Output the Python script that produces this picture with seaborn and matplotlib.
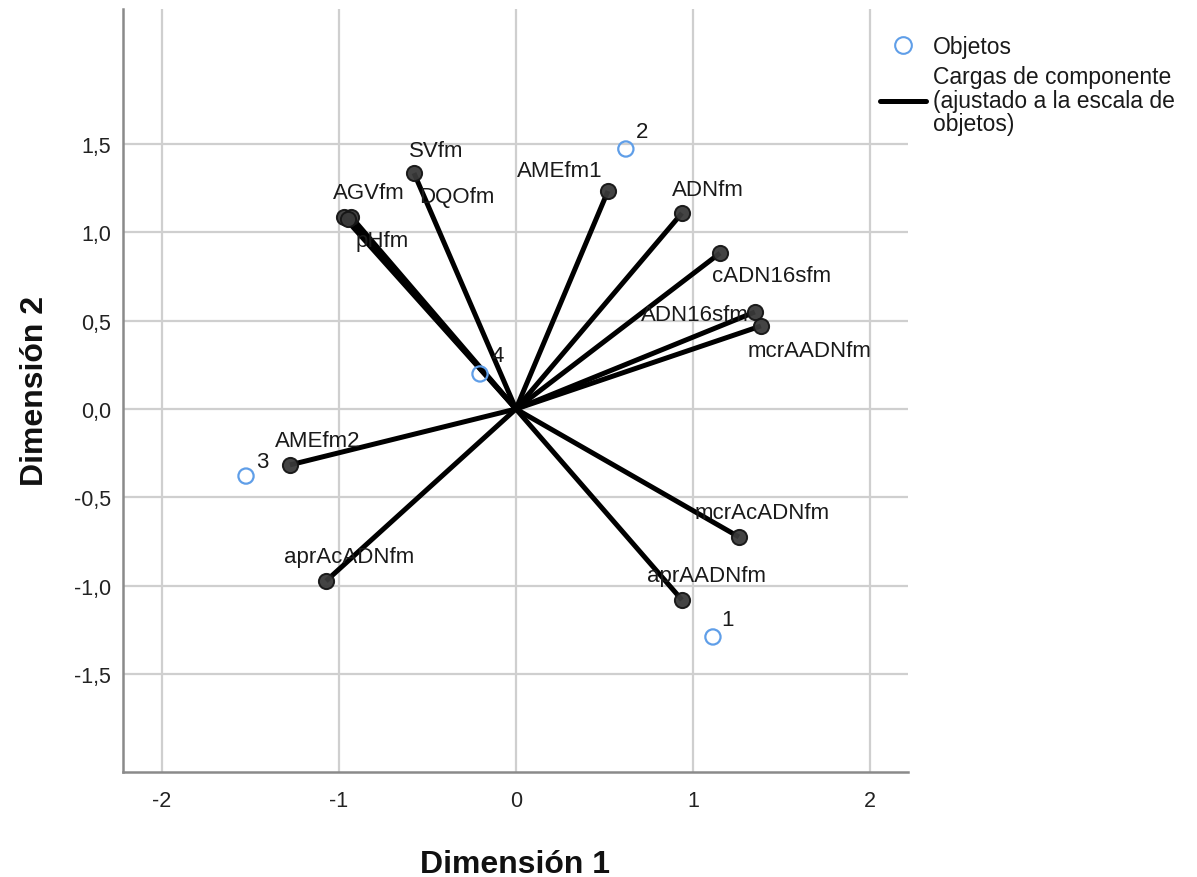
import matplotlib
matplotlib.use("Agg")
import matplotlib.pyplot as plt
from matplotlib.lines import Line2D
import seaborn as sns
import pandas as pd

# Component loadings (scaled to object space)
var_names = ["SVfm", "AGVfm", "DQOfm", "pHfm", "AMEfm1", "ADNfm", "cADN16sfm",
             "ADN16sfm", "mcrAADNfm", "mcrAcADNfm", "aprAADNfm", "aprAcADNfm", "AMEfm2"]
load_dim1 = [-0.576, -0.972, -0.930, -0.950, 0.520, 0.938, 1.153,
             1.350, 1.384, 1.260, 0.938, -1.073, -1.277]
load_dim2 = [1.333, 1.085, 1.085, 1.075, 1.232, 1.107, 0.881,
             0.548, 0.469, -0.723, -1.079, -0.972, -0.316]

# Object scores
obj_names = ["1", "2", "3", "4"]
obj_dim1 = [1.113, 0.621, -1.525, -0.203]
obj_dim2 = [-1.288, 1.469, -0.379, 0.198]

x_ticks = [-2, -1, 0, 1, 2]
y_ticks = [-1.5, -1.0, -0.5, 0.0, 0.5, 1.0, 1.5]

# label placement (pixel offsets from the point, left-aligned text)
var_label_offsets = {
    "SVfm": (-5, 23), "AGVfm": (-11, 24), "DQOfm": (68, 20), "pHfm": (8, -22),
    "AMEfm1": (-91, 20), "ADNfm": (-10, 24), "cADN16sfm": (-8, -22),
    "ADN16sfm": (-114, -2), "mcrAADNfm": (-13, -25), "mcrAcADNfm": (-44, 24),
    "aprAADNfm": (-35, 24), "aprAcADNfm": (-42, 25), "AMEfm2": (-15, 24),
}
obj_label_offsets = {"1": (8, 17), "2": (10, 17), "3": (10, 15), "4": (11, 18)}

loadings = pd.DataFrame({"name": var_names, "d1": load_dim1, "d2": load_dim2})
objects = pd.DataFrame({"name": obj_names, "d1": obj_dim1, "d2": obj_dim2})

sns.set_theme(style="whitegrid")
plt.rcParams["font.family"] = ["Liberation Sans", "DejaVu Sans"]

W, H = 1197, 878
fig = plt.figure(figsize=(W / 100, H / 100), dpi=100)
fig.patch.set_facecolor("white")
ax = fig.add_axes([123 / W, 1 - 773 / H, (908 - 123) / W, (773 - 10) / H])
ax.set_facecolor("white")

blue = "#5f9ee8"
txt = "#1a1a1a"

# loading vectors from the origin
for _, r in loadings.iterrows():
    ax.plot([0, r.d1], [0, r.d2], color="black", lw=3.6, solid_capstyle="butt", zorder=3)

sns.scatterplot(data=loadings, x="d1", y="d2", ax=ax, s=120, color="#3a3a3a",
                edgecolor="#151515", linewidth=1.4, alpha=0.95, zorder=4, legend=False)

sns.scatterplot(data=objects, x="d1", y="d2", ax=ax, s=120, facecolor="none",
                edgecolor=blue, linewidth=1.6, zorder=5, legend=False)

for _, r in loadings.iterrows():
    dx, dy = var_label_offsets[r["name"]]
    ax.annotate(r["name"], (r.d1, r.d2), xytext=(dx, dy), textcoords="offset pixels",
                ha="left", va="center", fontsize=16, color=txt, zorder=6)

for _, r in objects.iterrows():
    dx, dy = obj_label_offsets[r["name"]]
    ax.annotate(r["name"], (r.d1, r.d2), xytext=(dx, dy), textcoords="offset pixels",
                ha="left", va="center", fontsize=16, color=txt, zorder=6)

ax.set_xlim(-2.22, 2.215)
ax.set_ylim(-2.051, 2.26)
ax.set_xticks(x_ticks)
ax.set_xticklabels([str(v) for v in x_ticks])
ax.set_yticks(y_ticks)
ax.set_yticklabels([f"{v:.1f}".replace(".", ",") for v in y_ticks])
ax.tick_params(axis="both", length=0, labelsize=15.5, colors="#222222")
ax.tick_params(axis="y", pad=8.6)
ax.tick_params(axis="x", pad=13)

ax.grid(True, color="#cfcfcf", lw=1.6)
ax.set_axisbelow(True)
for side in ["top", "right"]:
    ax.spines[side].set_visible(False)
for side in ["left", "bottom"]:
    ax.spines[side].set_visible(True)
    ax.spines[side].set_color("#8a8a8a")
    ax.spines[side].set_linewidth(1.8)

ax.set_xlabel("Dimensión 1", fontsize=23, fontweight="bold", labelpad=27, color="#111111")
ax.set_ylabel("Dimensión 2", fontsize=23, fontweight="bold", labelpad=17, color="#111111")

handles = [
    Line2D([], [], marker="o", linestyle="none", markersize=12, markerfacecolor="none",
           markeredgecolor=blue, markeredgewidth=1.5),
    Line2D([], [], color="black", lw=3.6),
]
labels = ["Objetos", "Cargas de componente\n(ajustado a la escala de\nobjetos)"]
leg = fig.legend(handles, labels, loc="upper left", bbox_to_anchor=(878 / W, 1 - 34 / H),
                 frameon=True, fontsize=16.5, handlelength=2.0, handletextpad=0.3,
                 labelspacing=0.3, borderaxespad=0, borderpad=0.1)
leg.get_frame().set_facecolor("white")
leg.get_frame().set_edgecolor("white")
for t in leg.get_texts():
    t.set_linespacing(1.02)
    t.set_color(txt)

fig.savefig("out.png", dpi=100, facecolor="white")
